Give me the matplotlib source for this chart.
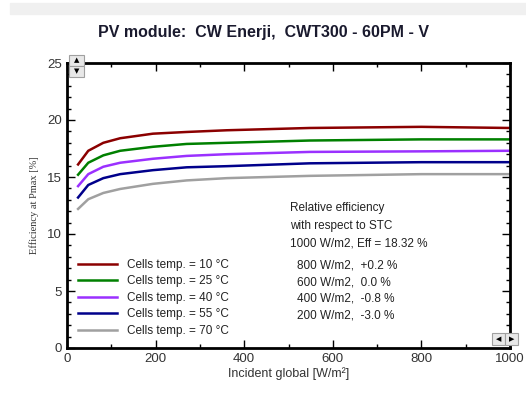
import matplotlib.pyplot as plt
from matplotlib.patches import Rectangle

plt.rcParams["font.family"] = ["Liberation Sans", "DejaVu Sans"]

irradiance = [25, 48, 82, 120, 194, 270, 361, 548, 800, 1000]
eff_10 = [16.1, 17.3, 18.0, 18.4, 18.8, 18.95, 19.1, 19.3, 19.4, 19.3]
eff_25 = [15.2, 16.25, 16.9, 17.3, 17.65, 17.9, 18.0, 18.2, 18.3, 18.3]
eff_40 = [14.2, 15.25, 15.9, 16.25, 16.6, 16.85, 17.0, 17.2, 17.25, 17.3]
eff_55 = [13.2, 14.3, 14.9, 15.25, 15.6, 15.85, 15.95, 16.2, 16.3, 16.3]
eff_70 = [12.2, 13.05, 13.6, 13.95, 14.4, 14.7, 14.9, 15.1, 15.25, 15.25]

series = [eff_10, eff_25, eff_40, eff_55, eff_70]
labels = ["Cells temp. = 10 °C", "Cells temp. = 25 °C", "Cells temp. = 40 °C",
          "Cells temp. = 55 °C", "Cells temp. = 70 °C"]
colors = ["#8b0000", "#008000", "#9b30ff", "#00008b", "#a0a0a0"]
stc_lines = ["Relative efficiency", "with respect to STC", "1000 W/m2, Eff = 18.32 %"]
rel_eff = ["800 W/m2,  +0.2 %", "600 W/m2,  0.0 %", "400 W/m2,  -0.8 %",
           "200 W/m2,  -3.0 %"]

W, H = 526, 397
fig = plt.figure(figsize=(W / 100, H / 100), dpi=100)
ax = fig.add_axes([67 / W, 1 - 348 / H, (510 - 67) / W, (348 - 63) / H])

# grey strip at the top
fig.patches.append(Rectangle((10 / W, 1 - 14 / H), 516 / W, 11 / H,
                             transform=fig.transFigure, color="#f0f0f0", zorder=0))

fig.text(0.5, 1 - 32 / H, "PV module:  CW Enerji,  CWT300 - 60PM - V",
         ha="center", va="center", fontsize=11.5, fontweight="bold", color="#1a1a2e")

for y, lab, c in zip(series, labels, colors):
    ax.plot(irradiance, y, color=c, lw=1.8, label=lab)

ax.set_xlim(0, 1000)
ax.set_ylim(0, 25)
ax.set_xticks(range(0, 1001, 200))
ax.set_xticks(range(0, 1001, 100), minor=True)
ax.set_yticks(range(0, 26, 5))
ax.set_yticks(range(0, 26, 1), minor=True)
ax.tick_params(which="both", direction="in", top=True, right=True,
               labelsize=9.5, labelcolor="#333333", width=1)
ax.tick_params(which="major", length=6)
ax.tick_params(which="minor", length=3)
for s in ax.spines.values():
    s.set_linewidth(2)

ax.set_xlabel("Incident global [W/m²]", fontsize=9, color="#333333", labelpad=2)
ax.set_ylabel("Efficiency at Pmax [%]", fontsize=7.5, family="Liberation Serif",
              color="#333333", labelpad=6)

ax.legend(loc="lower left", bbox_to_anchor=(0.0, 0.0), frameon=False,
          fontsize=8.5, handlelength=3.3, labelspacing=0.38, borderaxespad=0.55,
          labelcolor="#222222")

for i, t in enumerate(stc_lines):
    ax.text(0.503, 0.491 - i * 0.0615, t, transform=ax.transAxes, fontsize=8.5,
            va="center", color="#222222")
for i, t in enumerate(rel_eff):
    ax.text(0.52, 0.288 - i * 0.0575, t, transform=ax.transAxes, fontsize=8.5,
            va="center", color="#222222")

# scroll buttons
def button(x, y, w, h, sym):
    fig.patches.append(Rectangle((x / W, 1 - (y + h) / H), w / W, h / H,
                                 transform=fig.transFigure, facecolor="#e8e8e8",
                                 edgecolor="#a0a0a0", lw=0.8, zorder=5))
    fig.text((x + w / 2) / W, 1 - (y + h / 2) / H, sym, ha="center", va="center",
             fontsize=5, color="black", family="DejaVu Sans", zorder=6)

button(69, 55, 15, 11, "▲")
button(69, 66, 15, 11, "▼")
button(492, 333, 13, 12, "◀")
button(505, 333, 13, 12, "▶")

fig.savefig("out.png", dpi=100)
